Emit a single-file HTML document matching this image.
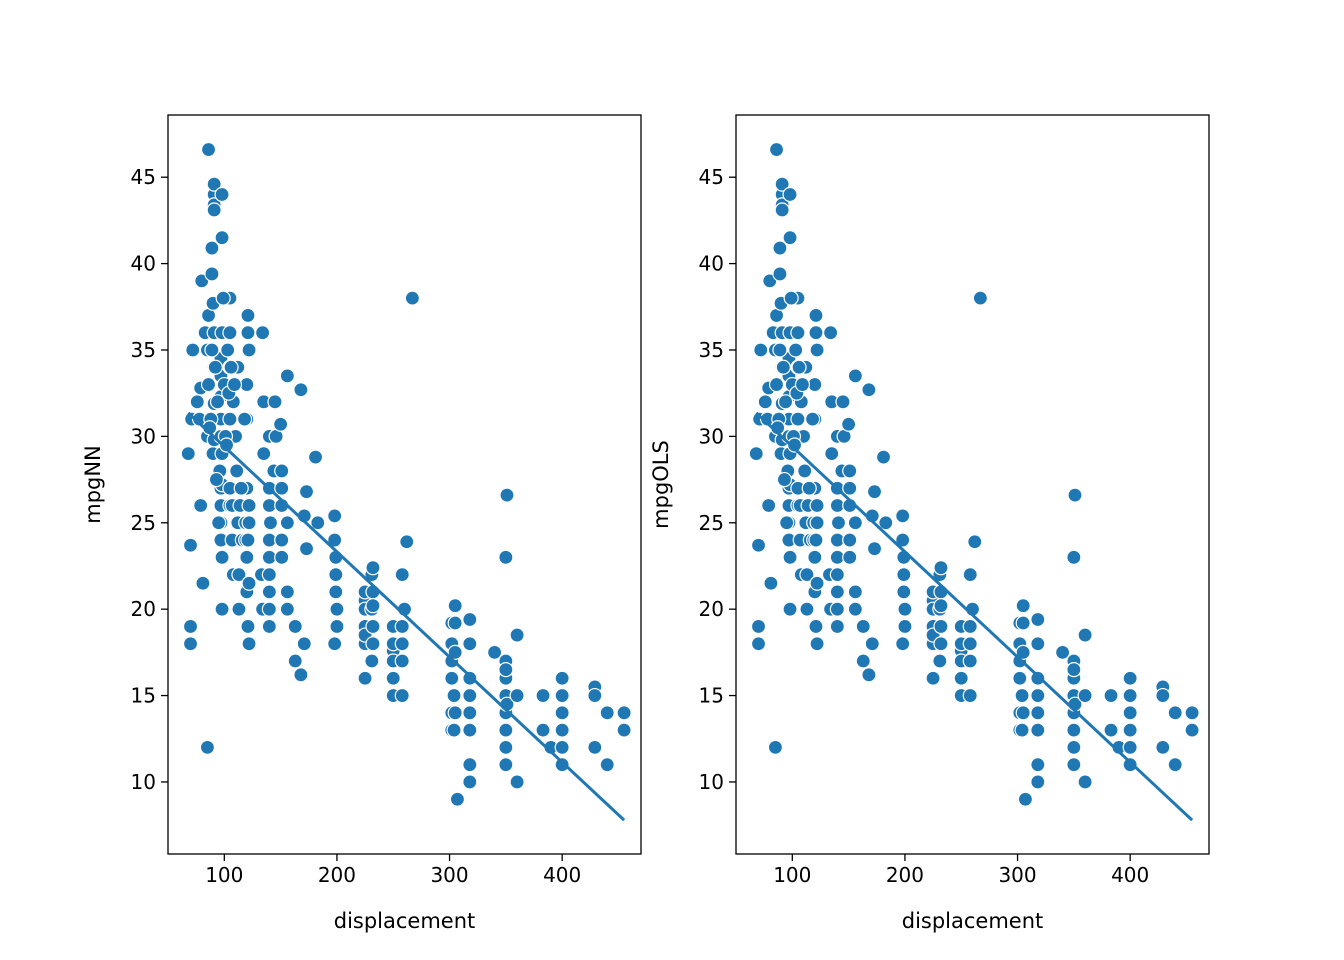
<!DOCTYPE html>
<html><head><meta charset="utf-8"><style>
body{margin:0;background:#fff}
svg{display:block;font-family:"DejaVu Sans","Liberation Sans",sans-serif}
</style></head><body>
<svg id="chart" width="1344" height="960"></svg>
<script>
const displacement=[68,70,70,70,71,72,76,78,79,79,80,81,83,85,85,86,86,86,89,89,90,90,90,91,91,91,91,91,91,91,91,97,97,97,97,97,97,98,98,98,98,98,98,97,97,97,97,98,105,105,105,105,105,105,107,107,108,108,110,112,112,112,113,113,114,116,119,119,120,120,120,120,120,121,121,121,121,122,122,122,122,122,133,134,134,135,135,140,140,140,140,140,140,140,140,140,141,144,145,146,150,151,151,151,151,151,151,156,156,156,156,163,163,168,168,171,171,173,173,181,183,198,198,198,199,199,199,200,200,225,225,225,225,225,225,225,231,231,231,231,232,232,232,232,232,250,250,250,250,250,250,258,258,258,258,258,260,262,267,302,302,302,302,302,302,304,304,304,305,305,305,305,307,318,318,318,318,318,318,318,318,340,350,350,350,350,350,350,350,350,350,350,351,351,360,360,360,383,383,390,400,400,400,400,400,400,400,429,429,429,440,440,455,455,85,88,92,94,96,100,101,103,104,106,109,111,115,118,93,95,99,102,87,89];
const mpg=[29,23.7,19,18,31,35,32,31,32.8,26,39,21.5,36,30,35,33,46.6,37,40.9,39.4,37.7,31,29,34,36,31.9,44,44.6,43.4,43.1,29.8,32.3,26,27,30,24,28,44,41.5,29,36,23,20,34.5,33.5,31,25,27.2,26,38,34,36,31,27,26,24,22,32,30,34,25,28,22,20,26,24,25,24,31,27,33,23,21,19,37,36,24,26,18,21.5,25,35,22,20,36,32,29,30,27,23,26,24,22,21,20,19,25,28,32,30,30.7,24,27,28,26,23,24,33.5,25,21,20,19,17,16.2,32.7,25.4,18,23.5,26.8,28.8,25,25.4,24,18,23,22,21,20,19,20.5,16,18,19,20,18.5,21,22,17,20,22,21,18,19,22.4,20.2,17.6,15,16,17,18,19,22,17,15,18,19,20,23.9,38,19.2,13,14,16,17,18,15,15,13,14,17.5,19.2,20.2,9,10,13,14,15,16,18,11,19.4,17.5,14,11,12,13,14,15,16,17,16.5,23,26.6,14.5,15,10,18.5,13,15,12,15,11,12,13,14,15,16,15.5,15,12,11,14,13,14,12,31,34,32,28,33,30,35,32.5,34,33,28,27,31,27.5,25,38,29.5,30.5,35,33.5];
const lineX=[68,455];
const slope=-0.0609, intercept=35.5;
const xTicks=[100,200,300,400];
const yTicks=[10,15,20,25,30,35,40,45];
const panels=[{ox:0,title:"mpgNN",name:"nn"},{ox:568,title:"mpgOLS",name:"ols"}];
const NS="http://www.w3.org/2000/svg";
const svg=document.getElementById('chart');
function el(t,a,p){const e=document.createElementNS(NS,t);for(const k in a)e.setAttribute(k,a[k]);(p||svg).appendChild(e);return e;}
panels.forEach(p=>{
  const L=168+p.ox,R=641+p.ox,T=115,B=854;
  const sx=v=>L+(v-50)*(R-L)/420;
  const sy=v=>B-(v-5.83)*(B-T)/(48.6-5.83);
  const g=el('g',{});
  
  
  displacement.forEach((d,i)=>{
    const c=el('circle',{cx:sx(d),cy:sy(mpg[i]),r:7,fill:'#1f77b4',stroke:'#fff','stroke-width':1.2},g);
    
    
  });
  const ln=el('line',{x1:sx(lineX[0]),y1:sy(intercept+slope*lineX[0]),x2:sx(lineX[1]),y2:sy(intercept+slope*lineX[1]),stroke:'#1f77b4','stroke-width':3},g);
  
  
  const fr=el('rect',{x:L,y:T,width:R-L,height:B-T,fill:'none',stroke:'#000','stroke-width':1.3},g);
  
  
  xTicks.forEach(v=>{
    el('line',{x1:sx(v),x2:sx(v),y1:B,y2:B+7,stroke:'#000','stroke-width':1.3},g);
    const t=el('text',{x:sx(v),y:B+28,'text-anchor':'middle','font-size':20},g);
    t.textContent=v;
    
    
  });
  yTicks.forEach(v=>{
    el('line',{x1:L-7,x2:L,y1:sy(v),y2:sy(v),stroke:'#000','stroke-width':1.3},g);
    const t=el('text',{x:L-12,y:sy(v)+7,'text-anchor':'end','font-size':20},g);
    t.textContent=v;
    
    
  });
  const xt=el('text',{x:(L+R)/2,y:928,'text-anchor':'middle','font-size':21},g);
  xt.textContent='displacement';
  
  
  const yt=el('text',{x:0,y:0,'text-anchor':'middle','font-size':21,transform:`translate(${L-68},${(T+B)/2}) rotate(-90)`},g);
  yt.textContent=p.title;
  
  
});
</script>
</body></html>
